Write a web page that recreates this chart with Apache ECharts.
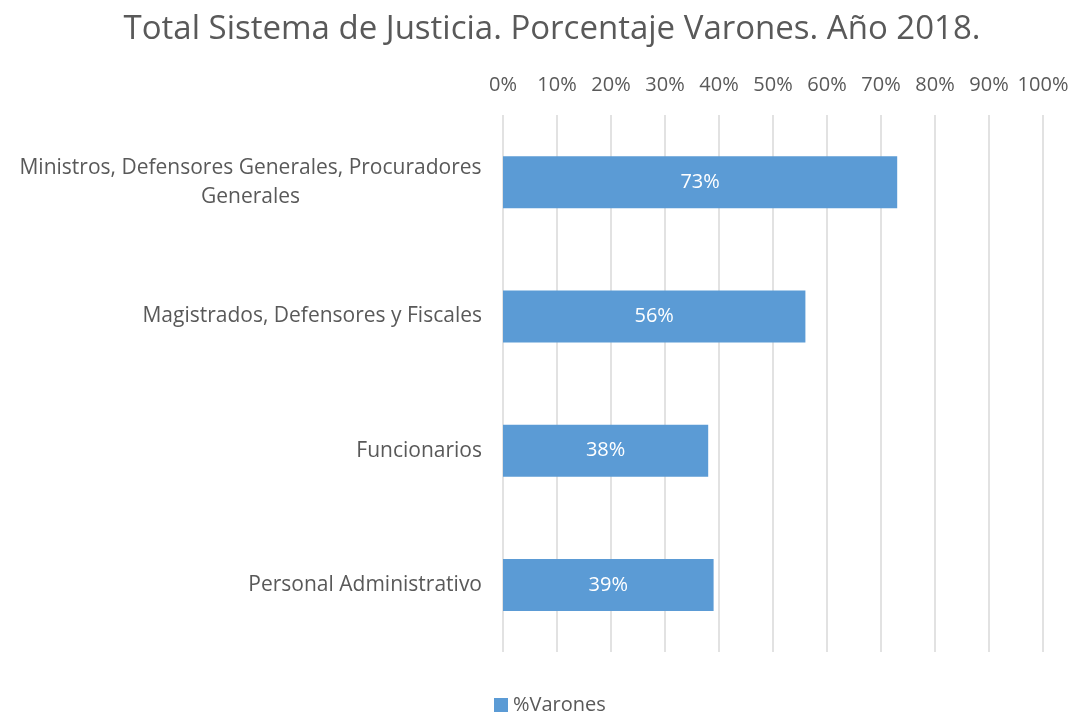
<!DOCTYPE html>
<html><head><meta charset="utf-8">
<script src="https://cdn.jsdelivr.net/npm/echarts@6/dist/echarts.min.js"></script>
<style>html,body{margin:0;padding:0;background:#fff}#c{width:1074px;height:713px}</style>
</head><body><div id="c"></div>
<script>
const categories = ['Ministros, Defensores Generales, Procuradores\nGenerales', 'Magistrados, Defensores y Fiscales', 'Funcionarios', 'Personal Administrativo'];
const varones = [73, 56, 38, 39];
const xTicks = [0, 10, 20, 30, 40, 50, 60, 70, 80, 90, 100];
const seriesName = '%Varones';
const titleText = 'Total Sistema de Justicia. Porcentaje Varones. Año 2018.';

const font = 'Open Sans';
const fs = 20;
const cfs = 21;
const ctx = document.createElement('canvas').getContext('2d');
ctx.font = cfs + 'px "' + font + '"';
function textW(s) { return Math.ceil(ctx.measureText(s).width); }

const chart = echarts.init(document.getElementById('c'));
chart.setOption({
  animation: false,
  textStyle: { fontFamily: font },
  title: { text: titleText, left: 547, top: 8, textAlign: 'center',
    textStyle: { fontFamily: font, fontSize: 33, fontWeight: 'normal', color: '#595959' } },
  grid: { left: 503, right: 31, top: 115, bottom: 61 },
  legend: { top: 690, left: 489, itemWidth: 14, itemHeight: 14, itemGap: 8,
    data: [{ name: seriesName, icon: 'rect' }],
    textStyle: { fontFamily: font, fontSize: fs, color: '#595959' } },
  xAxis: { type: 'value', position: 'top', min: xTicks[0], max: xTicks[xTicks.length-1], interval: 10,
    axisLine: { show: false }, axisTick: { show: false },
    axisLabel: { formatter: '{value}%', fontSize: fs, color: '#595959', margin: 20 },
    splitLine: { lineStyle: { color: '#d9d9d9', width: 1.5 } } },
  yAxis: { type: 'category', inverse: true, data: categories,
    axisLine: { show: false }, axisTick: { show: false },
    axisLabel: { fontSize: cfs, color: '#595959', margin: 21, align: 'right',
      formatter: function (v) {
        if (v.indexOf('\n') < 0) return v;
        const lines = v.split('\n');
        const w = Math.max.apply(null, lines.map(textW));
        return lines.map(function (s) { return '{c' + w + '|' + s + '}'; }).join('\n');
      },
      rich: (function () {
        const r = {};
        categories.forEach(function (v) {
          if (v.indexOf('\n') < 0) return;
          const w = Math.max.apply(null, v.split('\n').map(textW));
          r['c' + w] = { fontFamily: font, fontSize: cfs, color: '#595959', lineHeight: 29, width: w, align: 'center' };
        });
        return r;
      })() } },
  series: [{ name: seriesName, type: 'bar', data: varones, barWidth: 52,
    itemStyle: { color: '#5B9BD5' },
    label: { show: true, position: 'inside', formatter: '{c}%', color: '#fff', fontSize: fs } }]
});
</script></body></html>
